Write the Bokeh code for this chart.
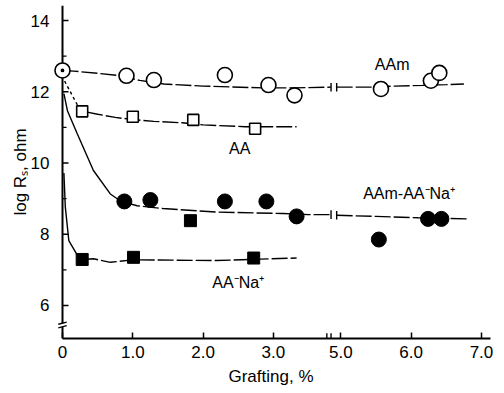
from bokeh.plotting import figure
from bokeh.models import Range1d, FixedTicker, CustomJSTickFormatter, LinearAxis
from bokeh.core.properties import value
from bokeh.embed import file_html
from bokeh.resources import INLINE

# ---------------- data ----------------
# broken x axis: grafting values >= X_BREAK_AT are drawn shifted left by X_SHIFT
X_BREAK_AT = 4.0
X_SHIFT = 1.04

x_tick_values = [0.0, 1.0, 2.0, 3.0, 5.0, 6.0, 7.0]
y_tick_values = [6, 8, 10, 12, 14]
y_minor_ticks = [7, 9, 11, 13]

origin_x = [0.0]
origin_y = [12.6]

aam_x = [0.91, 1.30, 2.31, 2.93, 3.30, 5.57, 6.28, 6.40]
aam_y = [12.45, 12.33, 12.47, 12.19, 11.90, 12.08, 12.31, 12.53]

aa_x = [0.28, 1.00, 1.86, 2.74]
aa_y = [11.45, 11.30, 11.21, 10.96]

aamna_x = [0.88, 1.25, 2.31, 2.90, 3.33, 5.54, 6.24, 6.43]
aamna_y = [8.92, 8.96, 8.92, 8.92, 8.50, 7.85, 8.43, 8.43]

aana_x = [0.28, 1.01, 1.82, 2.72]
aana_y = [7.29, 7.35, 8.38, 7.33]

# drawn trend curves
aam_curve_l_x = [0.0, 0.16, 0.5, 0.78, 1.1, 1.3, 1.44, 2.0, 2.85, 3.3, 3.82]
aam_curve_l_y = [12.6, 12.58, 12.52, 12.46, 12.32, 12.26, 12.22, 12.16, 12.11, 12.11, 12.13]
aam_curve_r_x = [4.94, 5.41, 5.76, 6.16, 6.5, 6.75]
aam_curve_r_y = [12.13, 12.13, 12.16, 12.18, 12.2, 12.22]

aa_curve_a_x = [0.03, 0.22]
aa_curve_a_y = [12.3, 11.6]
aa_curve_b_x = [0.35, 0.5, 0.75, 1.0, 1.3, 1.7, 2.0, 2.6, 3.0, 3.33]
aa_curve_b_y = [11.43, 11.37, 11.28, 11.22, 11.17, 11.13, 11.07, 11.02, 11.02, 11.02]

aamna_curve_a_x = [0.02, 0.07, 0.21, 0.44, 0.68, 0.82]
aamna_curve_a_y = [11.95, 11.47, 10.82, 9.79, 9.13, 8.94]
aamna_curve_b_x = [0.88, 1.06, 1.43, 2.19, 3.14, 3.5, 3.82]
aamna_curve_b_y = [8.9, 8.80, 8.72, 8.62, 8.58, 8.55, 8.55]
aamna_curve_r_x = [4.94, 5.5, 6.1, 6.8]
aamna_curve_r_y = [8.53, 8.5, 8.46, 8.43]

aana_curve_a_x = [0.02, 0.04, 0.09, 0.2, 0.27]
aana_curve_a_y = [9.72, 8.76, 7.82, 7.45, 7.32]
aana_curve_b_x = [0.28, 0.44, 0.68, 1.0, 2.19, 3.33]
aana_curve_b_y = [7.29, 7.31, 7.21, 7.28, 7.26, 7.33]

labels = ["AAm", "AA", "AAm-AA\u207bNa\u207a", "AA\u207bNa\u207a"]
label_x = [5.73, 2.52, 5.97, 2.50]
label_y = [12.76, 10.40, 9.13, 6.63]

x_title = "Grafting, %"
y_title = "log R\u209b, ohm"


def disp(xs):
    return [x - X_SHIFT if x >= X_BREAK_AT else x for x in xs]


FONT = "Liberation Sans"
PX_PER_X = 70.3
PX_PER_Y = 35.6

p = figure(width=504, height=393, output_backend="svg", toolbar_location=None,
           min_border_left=51, min_border_right=14, min_border_top=5, min_border_bottom=55)
x_start = -11 / PX_PER_X
p.x_range = Range1d(x_start, x_start + 439 / PX_PER_X)
p.y_range = Range1d(5.07, 5.07 + 333 / PX_PER_Y)
p.grid.visible = False
p.outline_line_color = None
p.background_fill_color = "white"
p.border_fill_color = "white"

# x axis
xa = p.xaxis[0]
xa.bounds = (0, 6.2)
xa.axis_line_width = 2
xa.axis_line_color = "black"
xa.major_tick_in = 6
xa.major_tick_out = 0
xa.major_tick_line_width = 1.5
xa.minor_tick_line_color = None
xa.major_label_text_font = FONT
xa.major_label_text_font_size = "17px"
xa.major_label_text_color = "black"
xa.major_label_standoff = 7
xa.ticker = FixedTicker(ticks=disp(x_tick_values), minor_ticks=[])
xa.formatter = CustomJSTickFormatter(
    code="const v = tick >= 3.5 ? tick + %f : tick; return Math.abs(v) < 1e-9 ? '0' : v.toFixed(1);" % X_SHIFT)

# second, bare axis below only to carry the x title
xt = LinearAxis(ticker=FixedTicker(ticks=[], minor_ticks=[]), axis_line_color=None,
                major_tick_line_color=None, minor_tick_line_color=None,
                bounds=(1.0, 5.54), axis_label=x_title, axis_label_standoff=6,
                axis_label_text_font=FONT, axis_label_text_font_size="17px",
                axis_label_text_font_style="normal", axis_label_text_color="black",
                major_label_text_font_size="0px")
p.add_layout(xt, "below")

# y axis: labels from the axis, line and ticks drawn at x = 0
ya = p.yaxis[0]
ya.ticker = FixedTicker(ticks=y_tick_values, minor_ticks=y_minor_ticks)
ya.axis_line_color = None
ya.major_tick_line_color = None
ya.minor_tick_line_color = None
ya.major_tick_out = 0
ya.major_tick_in = 0
ya.major_label_text_font = FONT
ya.major_label_text_font_size = "17px"
ya.major_label_text_color = "black"
ya.major_label_standoff = -2
ya.axis_label = y_title
ya.axis_label_text_font = FONT
ya.axis_label_text_font_size = "17px"
ya.axis_label_text_font_style = "normal"
ya.axis_label_text_color = "black"
ya.axis_label_standoff = -2

y_lo = p.y_range.start
y_hi = p.y_range.end
p.segment(x0=[0], y0=[y_lo], x1=[0], y1=[y_hi], line_color="black", line_width=2)
p.segment(x0=[0] * len(y_tick_values), y0=y_tick_values, x1=[6 / PX_PER_X] * len(y_tick_values),
          y1=y_tick_values, line_color="black", line_width=1.5)
p.segment(x0=[0] * len(y_minor_ticks), y0=y_minor_ticks, x1=[4 / PX_PER_X] * len(y_minor_ticks),
          y1=y_minor_ticks, line_color="black", line_width=1.2)

LW = 1.4
DASH = "16 3"

# curves
p.line(disp(aam_curve_l_x), aam_curve_l_y, line_color="black", line_width=LW, line_dash=DASH)
p.line(disp(aam_curve_r_x), aam_curve_r_y, line_color="black", line_width=LW, line_dash=DASH)
p.line(disp(aa_curve_a_x), aa_curve_a_y, line_color="black", line_width=LW, line_dash="3 3")
p.line(disp(aa_curve_b_x), aa_curve_b_y, line_color="black", line_width=LW, line_dash=DASH)
p.line(disp(aamna_curve_a_x), aamna_curve_a_y, line_color="black", line_width=LW)
p.line(disp(aamna_curve_b_x), aamna_curve_b_y, line_color="black", line_width=LW, line_dash=DASH)
p.line(disp(aamna_curve_r_x), aamna_curve_r_y, line_color="black", line_width=LW, line_dash=DASH)
p.line(disp(aana_curve_a_x), aana_curve_a_y, line_color="black", line_width=LW)
p.line(disp(aana_curve_b_x), aana_curve_b_y, line_color="black", line_width=LW, line_dash=DASH)

# break marks on the curves
bx = [disp(aam_curve_l_x)[-1], disp(aam_curve_r_x)[0], disp(aamna_curve_b_x)[-1], disp(aamna_curve_r_x)[0]]
by = [aam_curve_l_y[-1], aam_curve_r_y[0], aamna_curve_b_y[-1], aamna_curve_r_y[0]]
p.segment(x0=bx, y0=[v - 0.12 for v in by], x1=bx, y1=[v + 0.12 for v in by],
          line_color="black", line_width=1.4)

# break marks on x axis
xb = [3.76, 3.82]
p.segment(x0=xb, y0=[y_lo] * 2, x1=xb, y1=[y_lo + 0.15] * 2, line_color="black", line_width=1.4,
          level="overlay")

# break on y axis
p.quad(left=[-0.06], right=[0.06], bottom=[5.40], top=[5.50], fill_color="white",
       line_color=None, level="overlay")
p.segment(x0=[-0.06, -0.06], y0=[5.37, 5.47], x1=[0.06, 0.06], y1=[5.43, 5.53],
          line_color="black", line_width=1.4, level="overlay")

# markers
p.scatter(disp(aam_x), aam_y, marker="circle", size=15, fill_color="white",
          line_color="black", line_width=1.6)
p.scatter(disp(origin_x), origin_y, marker="circle_dot", size=15, fill_color="white",
          line_color="black", line_width=1.6)
p.scatter(disp(aa_x), aa_y, marker="square", size=11, fill_color="white",
          line_color="black", line_width=1.6)
p.scatter(disp(aamna_x), aamna_y, marker="circle", size=15, fill_color="black",
          line_color="black")
p.scatter(disp(aana_x), aana_y, marker="square", size=12, fill_color="black",
          line_color="black")

p.text(x=disp(label_x), y=label_y, text=labels, text_font=value(FONT), text_font_size="16px",
       text_align="center", text_baseline="middle", text_color="black")

open("out.html", "w").write(file_html(p, INLINE))
